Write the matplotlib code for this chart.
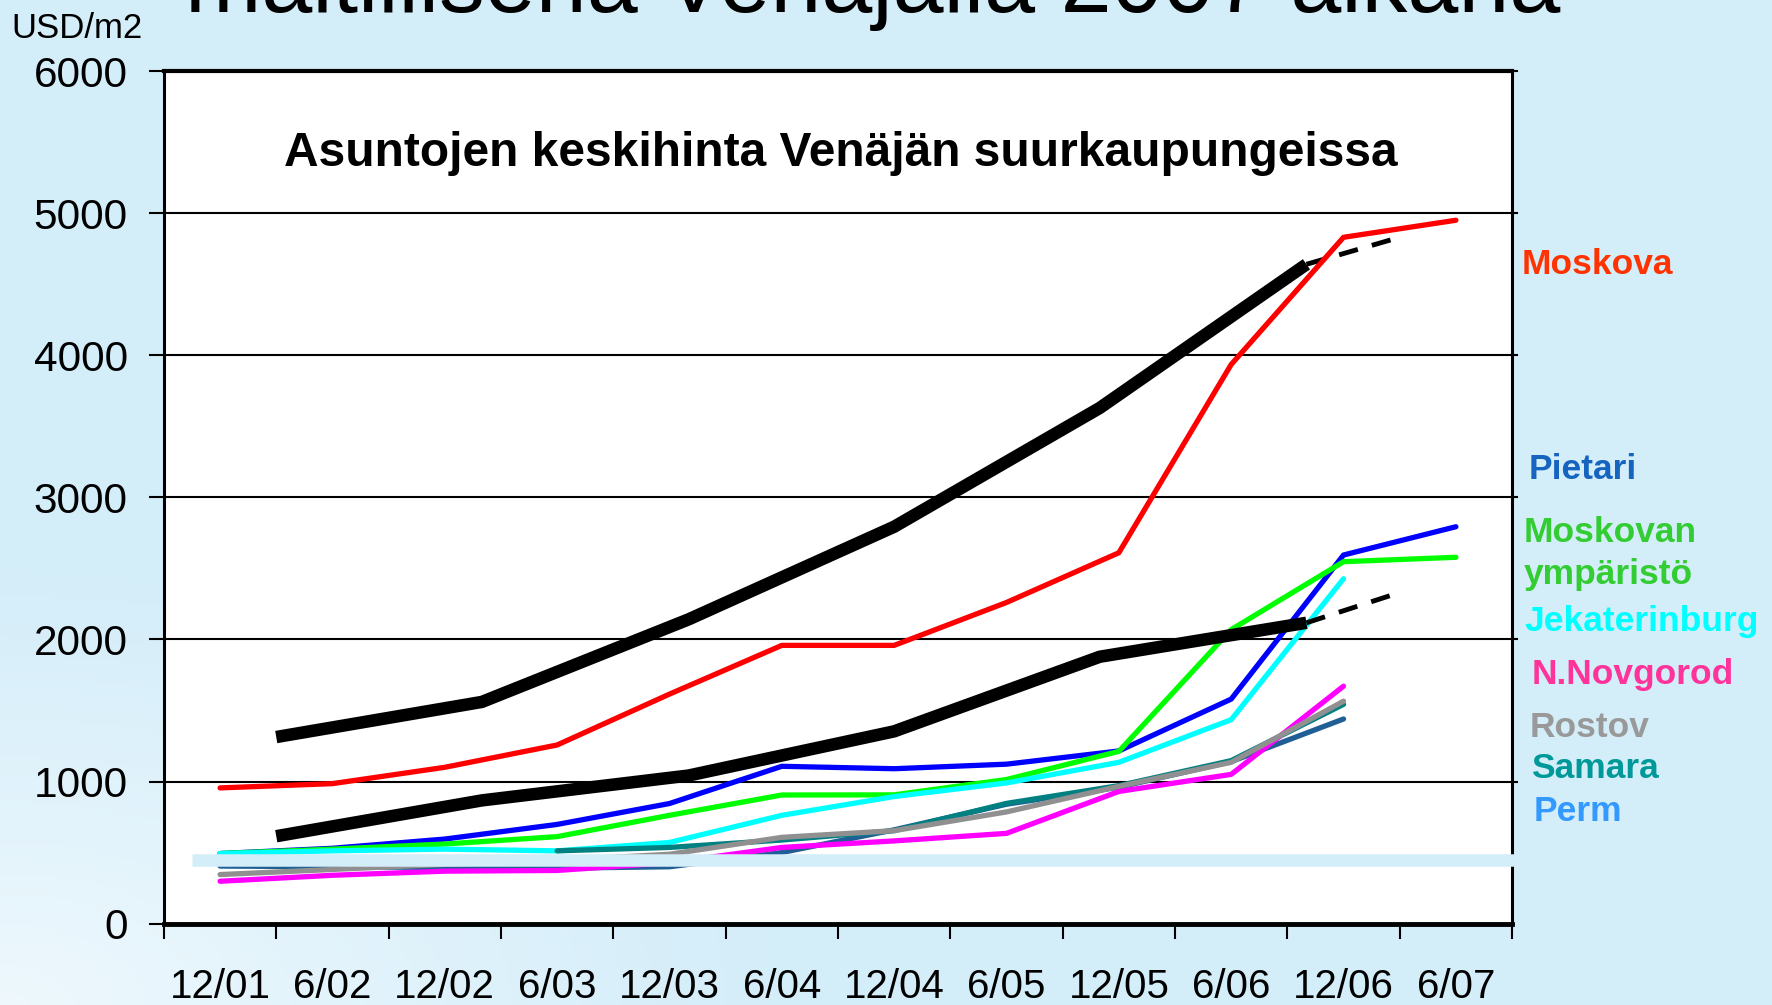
import matplotlib.pyplot as plt
import numpy as np

plt.rcParams['font.family'] = ['Liberation Sans', 'DejaVu Sans']

# categories (half-year points)
periods = ['12/01', '6/02', '12/02', '6/03', '12/03', '6/04',
           '12/04', '6/05', '12/05', '6/06', '12/06', '6/07']

# USD/m2 per city
moskova = [955, 985, 1100, 1257, 1615, 1958, 1958, 2260, 2610, 3935, 4830, 4950]
pietari = [493, 530, 595, 698, 845, 1107, 1090, 1122, 1215, 1580, 2594, 2793]
mosk_ymp = [493, 524, 560, 612, 762, 905, 906, 1014, 1212, 2069, 2547, 2578]
jekaterinburg = [493, 512, 524, 512, 571, 762, 894, 990, 1135, 1435, 2427]
novgorod = [298, 340, 369, 374, 428, 536, 582, 635, 930, 1050, 1671]
rostov = [345, 381, 417, 445, 488, 607, 654, 786, 966, 1135, 1565]
samara = [None, None, None, 512, 536, 588, 654, 846, 971, 1147, 1543]
perm = [405, 400, 395, 390, 400, 500, 660, 840, 960, 1140, 1440]

# thick black trend lines (own positions on the category axis)
trend_x = [0.5, 2.33, 4.17, 6.0, 7.83, 9.67]
trend_upper = [1313, 1560, 2141, 2793, 3629, 4640]
trend_lower = [615, 867, 1042, 1353, 1878, 2117]
dash_x = [9.67, 10.5]
dash_upper = [4640, 4830]
dash_lower = [2117, 2330]

band_x = [-0.25, 11.55]
band_y = [445, 445]

fig = plt.figure(figsize=(17.72, 10.05), dpi=100)

# light blue slide background, a bit lighter towards bottom-left
bg = fig.add_axes([0, 0, 1, 1], zorder=-10)
h, w = 201, 354
yy, xx = np.mgrid[0:h, 0:w]
d = np.sqrt((xx / w) ** 2 + ((h - yy) / h) ** 2)
t = np.clip(1 - d / 0.45, 0, 1)[..., None]
base = np.array([0xD3, 0xED, 0xF9]) / 255
light = np.array([0xEE, 0xF8, 0xFD]) / 255
bg.imshow(base * (1 - t) + light * t, aspect='auto', extent=[0, 1, 0, 1])
bg.axis('off')

ax = fig.add_axes([0.0925, 0.081, 0.7608, 0.8483])
ax.set_facecolor('white')

x = np.arange(len(periods))
lw = 3.8
ax.plot(x, moskova, color='#FF0000', lw=lw, solid_capstyle='round', zorder=4)
ax.plot(x, pietari, color='#0000FF', lw=lw, solid_capstyle='round', zorder=3)
ax.plot(x, mosk_ymp, color='#00FF00', lw=lw, solid_capstyle='round', zorder=3)
ax.plot(x[:11], jekaterinburg, color='#00FFFF', lw=lw, solid_capstyle='round', zorder=3)
ax.plot(x[:11], perm, color='#1F5F96', lw=lw, solid_capstyle='round', zorder=3)
ax.plot(x[:11], [np.nan if v is None else v for v in samara], color='#008080',
        lw=lw, solid_capstyle='round', zorder=3)
ax.plot(x[:11], novgorod, color='#FF00FF', lw=lw, solid_capstyle='round', zorder=3)
ax.plot(x[:11], rostov, color='#909090', lw=lw, solid_capstyle='round', zorder=3)

ax.plot(trend_x, trend_upper, color='black', lw=9, solid_capstyle='butt', zorder=3.5)
ax.plot(trend_x, trend_lower, color='black', lw=9, solid_capstyle='butt', zorder=3.5)
ax.plot(dash_x, dash_upper, color='black', lw=3.5, dashes=(4, 3), zorder=3.5)
ax.plot(dash_x, dash_lower, color='black', lw=3.5, dashes=(4, 3), zorder=3.5)

# background-coloured strip across the plot
ax.plot(band_x, band_y, color='#D3EDF9', lw=9, solid_capstyle='butt',
        clip_on=False, zorder=10)

ax.set_xlim(-0.5, 11.5)
ax.set_ylim(0, 6000)
ax.set_yticks(range(0, 6001, 1000))
ax.set_yticklabels([str(v) for v in range(0, 6001, 1000)], fontsize=30.5)
ax.set_xticks(np.arange(-0.5, 12, 1))
ax.set_xticklabels([])
ax.set_xticks(x, minor=True)
ax.set_xticklabels(periods, minor=True, fontsize=29)
ax.tick_params(axis='x', which='major', direction='out', length=11, width=1.5)
ax.tick_params(axis='x', which='minor', length=0, pad=32)
ax.tick_params(axis='y', direction='out', length=11, width=1.5, pad=15)
ax.yaxis.grid(True, color='black', lw=1.5)
ax.set_axisbelow(True)
# short stubs of the grid lines past the right frame
for v in range(1000, 6001, 1000):
    ax.plot([11.5, 11.54], [v, v], color='black', lw=1.5, clip_on=False, zorder=2)
for s in ax.spines.values():
    s.set_linewidth(2.2)
ax.spines['bottom'].set_linewidth(3.5)
ax.spines['top'].set_linewidth(3)

ax.text(0.502, 0.9035, 'Asuntojen keskihinta Venäjän suurkaupungeissa',
        transform=ax.transAxes, ha='center', va='center', fontsize=34.5,
        fontweight='bold')

fig.text(0.0062, 0.972, 'USD/m2', fontsize=25, ha='left', va='center')
fig.text(0.4924, 1 - 11.7 / 1005, 'maltillisena Venäjällä 2007 aikana',
         fontsize=66, ha='center', va='baseline')

labels = [
    ('Moskova', '#FF3300', 0.8587, 0.7269),
    ('Pietari', '#1565C0', 0.8625, 0.5235),
    ('Moskovan', '#33CC33', 0.8596, 0.4606),
    ('ympäristö', '#33CC33', 0.8596, 0.4185),
    ('Jekaterinburg', '#00FFFF', 0.8602, 0.3721),
    ('N.Novgorod', '#FF3399', 0.8644, 0.3190),
    ('Rostov', '#999999', 0.8630, 0.2667),
    ('Samara', '#009999', 0.8638, 0.2254),
    ('Perm', '#3399FF', 0.8657, 0.1833),
]
for txt, col, fx, fy in labels:
    fig.text(fx, fy, txt, color=col, fontsize=25.5, fontweight='bold',
             ha='left', va='baseline')

fig.savefig('out.png', dpi=100)
